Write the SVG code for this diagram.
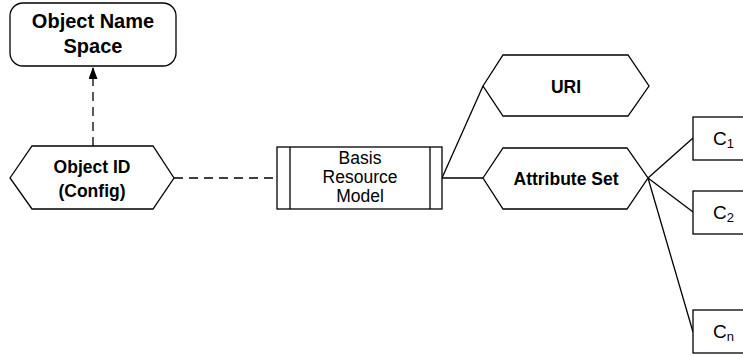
<svg xmlns="http://www.w3.org/2000/svg" width="743" height="356" viewBox="0 0 743 356">
  <style>
    .shape { fill: #ffffff; stroke: #000000; stroke-width: 1.3; }
    .line { fill: none; stroke: #000000; stroke-width: 1.3; }
    .dash { fill: none; stroke: #000000; stroke-width: 1.3; stroke-dasharray: 9 6; }
    .bold { font-family: "Liberation Sans", Arial, sans-serif; font-weight: bold; fill: #000; text-anchor: middle; }
    .reg { font-family: "Liberation Sans", Arial, sans-serif; fill: #000; }
  </style>
  <defs>
    <marker id="arrow" markerWidth="12" markerHeight="9" refX="11" refY="4.5" orient="auto" markerUnits="userSpaceOnUse">
      <path d="M0,0 L12,4.5 L0,9 Z" fill="#000"/>
    </marker>
  </defs>
  <rect width="743" height="356" fill="#ffffff"/>

  <!-- connectors -->
  <g id="connectors">
    <line class="dash" x1="93" y1="146" x2="93" y2="68" marker-end="url(#arrow)"/>
    <line class="dash" x1="174" y1="178" x2="277" y2="178"/>
    <line class="line" x1="442" y1="178" x2="483" y2="86"/>
    <line class="line" x1="442" y1="178" x2="483" y2="178"/>
    <line class="line" x1="648" y1="178" x2="693" y2="138"/>
    <line class="line" x1="648" y1="178" x2="693" y2="212"/>
    <line class="line" x1="648" y1="178" x2="693" y2="332"/>
  </g>

  <!-- nodes -->
  <g id="object-name-space">
    <rect class="shape" x="10" y="3" width="166" height="63" rx="13" ry="13"/>
    <text class="bold" x="93" y="28" font-size="20">Object Name</text>
    <text class="bold" x="93" y="53" font-size="20">Space</text>
  </g>

  <g id="object-id">
    <polygon class="shape" points="10,178 32,146 153,146 174,178 153,209 32,209"/>
    <text class="bold" x="92" y="173" font-size="17.5">Object ID</text>
    <text class="bold" x="92" y="197" font-size="17.5">(Config)</text>
  </g>

  <g id="basis-resource-model">
    <rect class="shape" x="277" y="147" width="165" height="62"/>
    <line class="line" x1="290" y1="147" x2="290" y2="209"/>
    <line class="line" x1="430" y1="147" x2="430" y2="209"/>
    <text class="reg" x="360" y="164" font-size="17.5" text-anchor="middle">Basis</text>
    <text class="reg" x="360" y="183" font-size="17.5" text-anchor="middle">Resource</text>
    <text class="reg" x="360" y="202" font-size="17.5" text-anchor="middle">Model</text>
  </g>

  <g id="uri">
    <polygon class="shape" points="483,86 503,55 628,55 649,86 628,116 503,116"/>
    <text class="bold" x="566" y="93" font-size="17.5">URI</text>
  </g>

  <g id="attribute-set">
    <polygon class="shape" points="483,178 503,148 627,148 648,178 627,209 503,209"/>
    <text class="bold" x="566" y="185" font-size="17.5">Attribute Set</text>
  </g>

  <g id="c1">
    <rect class="shape" x="693" y="117" width="70" height="43"/>
    <text class="reg" x="713" y="145" font-size="19">C<tspan font-size="13" dy="3">1</tspan></text>
  </g>

  <g id="c2">
    <rect class="shape" x="693" y="191" width="70" height="43"/>
    <text class="reg" x="713" y="219" font-size="19">C<tspan font-size="13" dy="3">2</tspan></text>
  </g>

  <g id="cn">
    <rect class="shape" x="693" y="310" width="70" height="43"/>
    <text class="reg" x="713" y="338" font-size="19">C<tspan font-size="13" dy="3">n</tspan></text>
  </g>
</svg>
